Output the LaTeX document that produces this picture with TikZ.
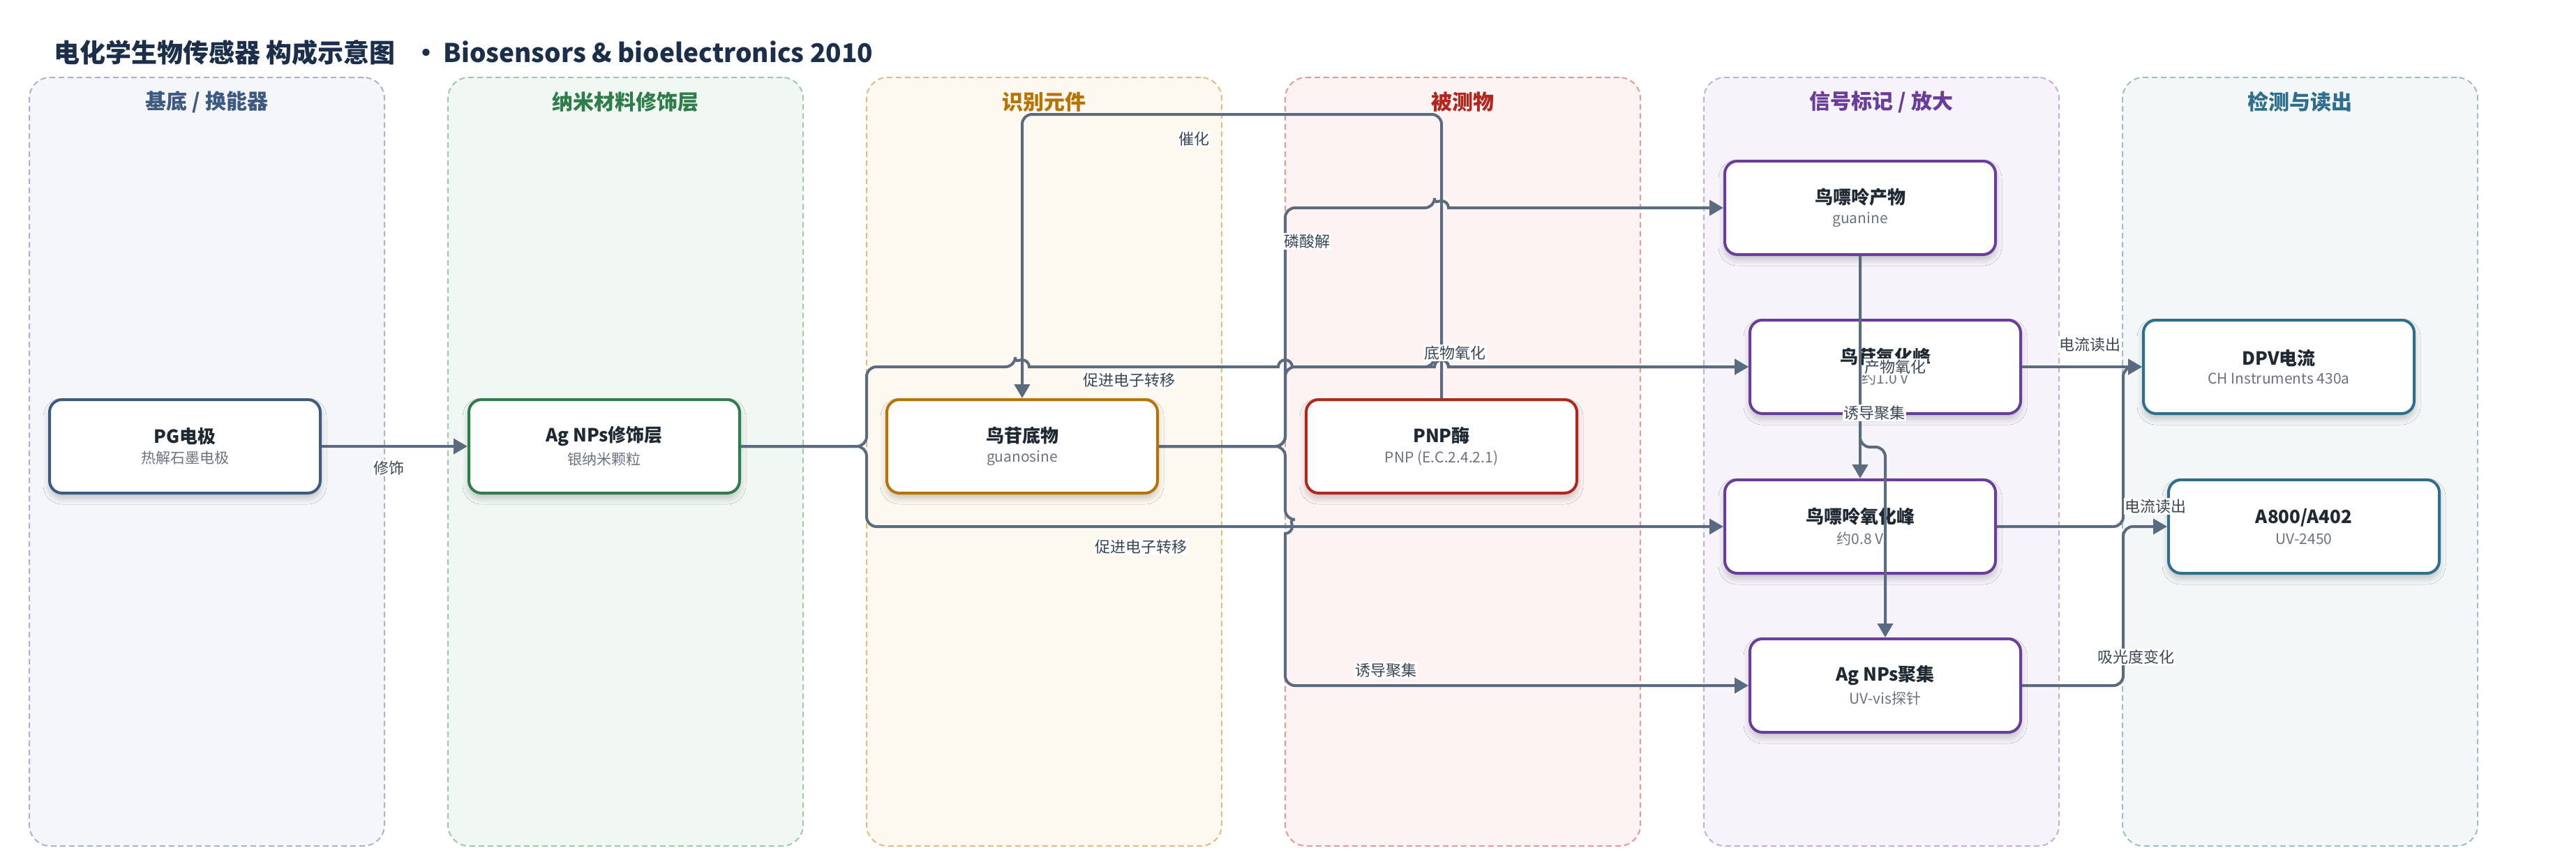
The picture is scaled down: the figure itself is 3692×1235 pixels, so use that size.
\documentclass[tikz,border=0pt]{standalone}
\usepackage{fontspec}
\setmainfont{Noto Sans CJK SC}
\usetikzlibrary{arrows.meta,shadows.blur}
\definecolor{titlec}{HTML}{1B2F4B}
\definecolor{edgec}{HTML}{5A6B80}
\definecolor{labelc}{HTML}{3A4656}
\definecolor{nodet}{HTML}{1F2933}
\definecolor{subgray}{HTML}{6B7280}
\definecolor{lAfill}{HTML}{F4F6FA}\definecolor{lAline}{HTML}{A7B4CA}\definecolor{lAtext}{HTML}{3D5A80}
\definecolor{lBfill}{HTML}{F1F8F3}\definecolor{lBline}{HTML}{9FCAA9}\definecolor{lBtext}{HTML}{2E7D4A}
\definecolor{lCfill}{HTML}{FDF8F0}\definecolor{lCline}{HTML}{E3BD7D}\definecolor{lCtext}{HTML}{B87305}
\definecolor{lDfill}{HTML}{FDF3F2}\definecolor{lDline}{HTML}{E39A9A}\definecolor{lDtext}{HTML}{B3261E}
\definecolor{lEfill}{HTML}{F6F3FB}\definecolor{lEline}{HTML}{C3AEE0}\definecolor{lEtext}{HTML}{6A3D9A}
\definecolor{lFfill}{HTML}{F3F7F8}\definecolor{lFline}{HTML}{9CBFCC}\definecolor{lFtext}{HTML}{2E6F8E}
\newcommand\nodetxt[2]{{\fontsize{26pt}{30pt}\selectfont\bfseries #1}\\[8pt]{\fontsize{21pt}{25pt}\selectfont\color{subgray}#2}}
\tikzset{
  lanebox/.style 2 args={draw=#2, fill=#1, line width=2pt, dash pattern=on 8pt off 5pt, rounded corners=30pt, minimum width=509pt, minimum height=1102pt, inner sep=0pt},
  lanehead/.style={font=\fontsize{30pt}{36pt}\selectfont\bfseries},
  box/.style={draw=#1, line width=4pt, fill=white, rounded corners=18pt, minimum width=388pt, minimum height=134pt, align=center, inner sep=0pt, text=nodet,
    blur shadow={shadow xshift=0pt, shadow yshift=-7pt, shadow opacity=22, shadow blur radius=9pt, shadow blur steps=8}},
  conn/.style={draw=edgec, line width=4pt, rounded corners=14pt, -{Triangle[length=20pt,width=22pt]}},
  elabel/.style={fill=white, text=labelc, font=\fontsize{22pt}{26pt}\selectfont, inner sep=1.5pt}
}
\begin{document}
\begin{tikzpicture}[x=1pt,y=-1pt]
\useasboundingbox[fill=white] (0,0) rectangle (3692,1235);
% title
\node[anchor=west, font=\fontsize{37pt}{45pt}\selectfont\bfseries, text=titlec, inner sep=0pt] (title) at (77,75) {电化学生物传感器 构成示意图\hspace{26pt}·\hspace{6pt}Biosensors \& bioelectronics 2010};
% lanes
\node[lanebox={lAfill}{lAline}] (laneA) at (296.5,662) {};
\node[lanebox={lBfill}{lBline}] (laneB) at (896.5,662) {};
\node[lanebox={lCfill}{lCline}] (laneC) at (1496.5,662) {};
\node[lanebox={lDfill}{lDline}] (laneD) at (2096.5,662) {};
\node[lanebox={lEfill}{lEline}] (laneE) at (2696.5,662) {};
\node[lanebox={lFfill}{lFline}] (laneF) at (3296.5,662) {};
\node[lanehead, text=lAtext] (hA) at (296.5,146) {基底 / 换能器};
\node[lanehead, text=lBtext] (hB) at (896.5,146) {纳米材料修饰层};
\node[lanehead, text=lCtext] (hC) at (1496.5,146) {识别元件};
\node[lanehead, text=lDtext] (hD) at (2096.5,146) {被测物};
\node[lanehead, text=lEtext] (hE) at (2696.5,146) {信号标记 / 放大};
\node[lanehead, text=lFtext] (hF) at (3296.5,146) {检测与读出};
% nodes
\node[box=lAtext] (pg) at (265,640) {\nodetxt{PG电极}{热解石墨电极}};
\node[box=lBtext] (ag) at (866,640) {\nodetxt{Ag NPs修饰层}{银纳米颗粒}};
\node[box=lCtext] (gs) at (1465,640) {\nodetxt{鸟苷底物}{guanosine}};
\node[box=lDtext] (pnp) at (2066,640) {\nodetxt{PNP酶}{PNP (E.C.2.4.2.1)}};
\node[box=lEtext] (gua) at (2666,298) {\nodetxt{鸟嘌呤产物}{guanine}};
\node[box=lEtext] (gox) at (2702,526) {\nodetxt{鸟苷氧化峰}{约1.0 V}};
\node[box=lEtext] (guox) at (2666,755) {\nodetxt{鸟嘌呤氧化峰}{约0.8 V}};
\node[box=lEtext] (agg) at (2702,983) {\nodetxt{Ag NPs聚集}{UV-vis探针}};
\node[box=lFtext] (dpv) at (3266,526) {\nodetxt{DPV电流}{CH Instruments 430a}};
\node[box=lFtext] (uv) at (3302,755) {\nodetxt{A800/A402}{UV-2450}};
% connectors
\draw[conn] (pg.east) -- (ag.west);
\draw[conn] (pnp.north) -- (2066,164) -- (1465,164) -- (gs.north);
\draw[conn] (gs.east) -- (1842,640) -- (1842,298) -- (2056,298) [sharp corners] arc[start angle=180,end angle=0,radius=10pt] -- (gua.west);
\draw[conn] (gs.east) -- (1842,640) -- (1842,745) [sharp corners] arc[start angle=90,end angle=-90,radius=10pt] [rounded corners=14pt] -- (1842,983) -- (agg.west);
\draw[conn] (gs.east) -- (1842,640) -- (1842,526) -- (2056,526) [sharp corners] arc[start angle=180,end angle=0,radius=10pt] -- (gox.west);
\draw[conn] (ag.east) -- (1242,640) -- (1242,755) -- (guox.west);
\draw[conn] (ag.east) -- (1242,640) -- (1242,526) -- (1455,526) [sharp corners] arc[start angle=180,end angle=0,radius=10pt] -- (1832,526) arc[start angle=180,end angle=0,radius=10pt] -- (2056,526) arc[start angle=180,end angle=0,radius=10pt] -- (gox.west);
\draw[conn] (gua.south) -- (guox.north);
\draw[conn] (gua.south) -- (2666,641) -- (2702,641) -- (agg.north);
\draw[conn] (gox.east) -- (dpv.west);
\draw[conn] (guox.east) -- (3043,755) -- (3043,526) -- (dpv.west);
\draw[conn] (agg.east) -- (3043,983) -- (3043,755) -- (uv.west);
% labels
\node[elabel] (l1) at (557,671) {修饰};
\node[elabel] (l2) at (1618,545) {促进电子转移};
\node[elabel] (l3) at (1635,784) {促进电子转移};
\node[elabel] (l4) at (1711,199) {催化};
\node[elabel] (l5) at (1873,346) {磷酸解};
\node[elabel] (l6) at (2085,506) {底物氧化};
\node[elabel] (l7) at (1986,961) {诱导聚集};
\node[elabel] (l8) at (2716,526) {产物氧化};
\node[elabel] (l9) at (2686,592) {诱导聚集};
\node[elabel] (l10) at (2995,494) {电流读出};
\node[elabel] (l11) at (3089,726) {电流读出};
\node[elabel] (l12) at (3061,942) {吸光度变化};
\end{tikzpicture}
\end{document}
